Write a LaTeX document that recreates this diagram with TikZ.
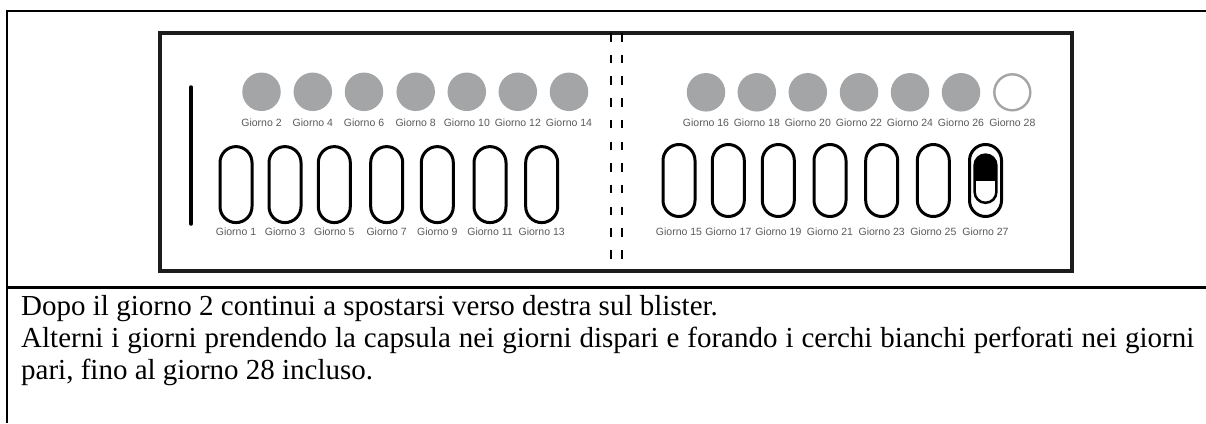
\documentclass[tikz,border=0pt]{standalone}
\usepackage{fontspec}
\setmainfont{Liberation Serif}
\newfontfamily\labelfont{Liberation Sans}

\definecolor{pillgray}{HTML}{A3A5A7}
\definecolor{labelgray}{HTML}{595959}
\definecolor{framedark}{HTML}{1C1C1C}

\tikzset{
  hole/.style={circle, fill=pillgray, minimum size=38.5pt, inner sep=0pt},
  openhole/.style={circle, draw=pillgray, line width=2.4pt, minimum size=36pt, inner sep=0pt},
  pocket/.style={draw=black, line width=3pt, minimum width=32pt, rounded corners=16pt, inner sep=0pt},
  daylabel/.style={font=\labelfont\fontsize{10.5}{12}\selectfont, text=labelgray, inner sep=0pt, anchor=base},
  notetext/.style={font=\fontsize{29}{32}\selectfont, inner sep=0pt, anchor=base west}
}

\begin{document}
\begin{tikzpicture}[x=1pt,y=-1pt]
    \useasboundingbox (0,0) rectangle (1206,423);

    % table lines
    \draw [line width=2pt] (7,423) -- (7,11) -- (1206,11);
    \draw [line width=2.5pt] (7,287.7) -- (1206,287.7);

    % blister card
    \draw [framedark,line width=4pt] (160,33) rectangle (1072,271);
    \draw [line width=3.5pt,line cap=round] (191,87) -- (191,224);
    \draw [line width=1.3pt,dash pattern=on 8.5pt off 13.2pt] (611,33) -- (611,271);
    \draw [line width=1.3pt,dash pattern=on 8.5pt off 13.2pt] (622,33) -- (622,271);

    % even days: perforated circles
    \foreach \x [count=\i] in {261.5,312.8,364,415.7,466.8,517.8,569}{
      \pgfmathtruncatemacro{\d}{2*\i}
      \node [hole] (hole\d) at (\x,91.8) {};
      \node [daylabel] (day\d) at (\x,126.6) {Giorno \d};
    }
    \foreach \x [count=\i] in {706,756.8,807.8,859,910,961}{
      \pgfmathtruncatemacro{\d}{14+2*\i}
      \node [hole] (hole\d) at (\x,92.3) {};
      \node [daylabel] (day\d) at (\x,126.6) {Giorno \d};
    }
    \node [openhole] (hole28) at (1012.3,92.3) {};
    \node [daylabel] (day28) at (1012.3,126.6) {Giorno 28};

    % odd days: capsule pockets
    \foreach \x [count=\i] in {236,285,334.3,386.7,437.3,490,541.7}{
      \pgfmathtruncatemacro{\d}{2*\i-1}
      \node [pocket,minimum height=76pt] (pocket\d) at (\x,184.6) {};
      \node [daylabel] (day\d) at (\x,235.6) {Giorno \d};
    }
    \foreach \x [count=\i] in {679,728.3,778.3,830,881.7,933.3,985.5}{
      \pgfmathtruncatemacro{\d}{13+2*\i}
      \node [pocket,minimum height=72pt] (pocket\d) at (\x,180.5) {};
      \node [daylabel] (day\d) at (\x,235.6) {Giorno \d};
    }

    % capsule left in pocket 27
    \begin{scope}
      \clip (960,140) rectangle (1010,180);
      \fill [rounded corners=10.9pt] (974.6,154.6) rectangle (996.4,202.8);
    \end{scope}
    \draw [line width=2.5pt,rounded corners=10.9pt] (974.6,154.6) rectangle (996.4,202.8);

    % instructions
    \node [notetext] (line1) at (21,315) {Dopo il giorno 2 continui a spostarsi verso destra sul blister.};
    \node [notetext] (line2) at (21,347) {\makebox[1173pt][s]{Alterni i giorni prendendo la capsula nei giorni dispari e forando i cerchi bianchi perforati nei giorni}};
    \node [notetext] (line3) at (21,379) {pari, fino al giorno 28 incluso.};
\end{tikzpicture}
\end{document}
